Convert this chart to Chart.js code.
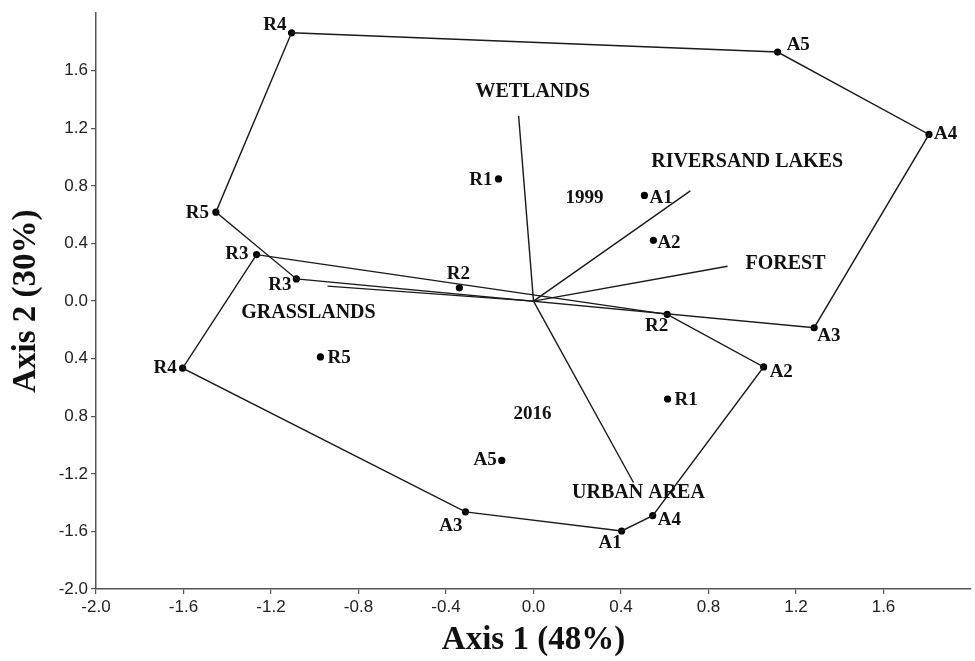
<!DOCTYPE html>
<html>
<head>
<meta charset="utf-8">
<script src="https://cdn.jsdelivr.net/npm/chart.js@4/dist/chart.umd.min.js"></script>
<style>
  html, body { margin: 0; padding: 0; background: #fff; }
  #wrap { width: 975px; height: 661px; }
</style>
</head>
<body>
<div id="wrap"><canvas id="myChart" width="975" height="661"></canvas></div>
<script>
'use strict';

// site scores, order R1..R5, A1..A5
let siteNames = ['R1', 'R2', 'R3', 'R4', 'R5', 'A1', 'A2', 'A3', 'A4', 'A5'];
let axis1_1999 = [-0.160, -0.339, -1.084, -1.106, -1.452, 0.507, 0.548, 1.283, 1.808, 1.116];
let axis2_1999 = [0.849, 0.092, 0.154, 1.864, 0.618, 0.734, 0.422, -0.185, 1.158, 1.730];
let axis1_2016 = [0.613, 0.611, -1.266, -1.604, -0.974, 0.403, 1.052, -0.311, 0.545, -0.145];
let axis2_2016 = [-0.680, -0.092, 0.323, -0.466, -0.388, -1.597, -0.457, -1.464, -1.490, -1.107];

// hull outlines (by site name)
let hull1999 = ['R4', 'A5', 'A4', 'A3', 'R3', 'R5', 'R4'];
let hull2016 = ['R3', 'R2', 'A2', 'A4', 'A1', 'A3', 'R4', 'R3'];

// land cover vectors
let coverNames = ['WETLANDS', 'RIVERSAND LAKES', 'FOREST', 'GRASSLANDS', 'URBAN AREA'];
let coverAxis1 = [-0.068, 0.717, 0.887, -0.942, 0.457];
let coverAxis2 = [1.287, 0.766, 0.242, 0.104, -1.260];

// year labels
let yearNames = ['1999', '2016'];
let yearAxis1 = [0.233, -0.005];
let yearAxis2 = [0.713, -0.782];

// ticks
let xTicks = [-2.0, -1.6, -1.2, -0.8, -0.4, 0.0, 0.4, 0.8, 1.2, 1.6];
let xTickLabels = ['-2.0', '-1.6', '-1.2', '-0.8', '-0.4', '0.0', '0.4', '0.8', '1.2', '1.6'];
let yTicks = [1.6, 1.2, 0.8, 0.4, 0.0, -0.4, -0.8, -1.2, -1.6, -2.0];
let yTickLabels = ['1.6', '1.2', '0.8', '0.4', '0.0', '0.4', '0.8', '-1.2', '-1.6', '-2.0'];

// label placement [align, dx, dy] in px, same order as siteNames
let place1999 = [['right', -6, 1], ['center', -1, -14], ['right', -5, 6], ['right', -5, -8], ['right', -7, 1],
                 ['left', 5, 3], ['left', 4, 3], ['left', 3, 8], ['left', 5, 0], ['left', 9, -7]];
let place2016 = [['left', 7, 1], ['right', 1, 12], ['right', -8, -1], ['right', -6, 0], ['left', 7, 1],
                 ['right', 0, 12], ['left', 6, 5], ['right', -3, 14], ['left', 5, 5], ['right', -5, 0]];
let placeCover = [['center', 14, -24], ['left', -39, -29], ['left', 18, -2], ['center', -19, 27], ['center', 5, 10]];

let ink = '#1a1a1a';
let serif = '"Liberation Serif", "Times New Roman", serif';

function pointsOf(xs, ys) {
    let out = [];
    for (let i = 0; i < xs.length; i++) {
        out.push({x: xs[i], y: ys[i]});
    }
    return out;
}

function hullOf(order, xs, ys) {
    return order.map(function (n) {
        let i = siteNames.indexOf(n);
        return {x: xs[i], y: ys[i]};
    });
}

let datasets = [];

datasets.push({data: hullOf(hull1999, axis1_1999, axis2_1999), showLine: true, borderColor: ink, borderWidth: 1.4, pointRadius: 0});
datasets.push({data: hullOf(hull2016, axis1_2016, axis2_2016), showLine: true, borderColor: ink, borderWidth: 1.4, pointRadius: 0});

for (let i = 0; i < coverNames.length; i++) {
    datasets.push({
        data: [{x: 0, y: 0}, {x: coverAxis1[i], y: coverAxis2[i]}],
        showLine: true, borderColor: ink, borderWidth: 1.4, pointRadius: 0
    });
}

datasets.push({data: pointsOf(axis1_1999, axis2_1999), pointRadius: 3.6, backgroundColor: '#000', borderColor: '#000', borderWidth: 0});
datasets.push({data: pointsOf(axis1_2016, axis2_2016), pointRadius: 3.6, backgroundColor: '#000', borderColor: '#000', borderWidth: 0});

// draws all text tags at data positions
let tagPlugin = {
    id: 'tags',
    afterDatasetsDraw: function (chart) {
        let ctx = chart.ctx;
        let sx = chart.scales.x;
        let sy = chart.scales.y;
        ctx.save();
        ctx.fillStyle = '#111';
        ctx.textBaseline = 'middle';

        function put(text, x, y, p) {
            ctx.textAlign = p[0];
            ctx.fillText(text, sx.getPixelForValue(x) + p[1], sy.getPixelForValue(y) + p[2]);
        }

        ctx.font = 'bold 19px ' + serif;
        for (let i = 0; i < siteNames.length; i++) {
            put(siteNames[i], axis1_1999[i], axis2_1999[i], place1999[i]);
            put(siteNames[i], axis1_2016[i], axis2_2016[i], place2016[i]);
        }
        for (let i = 0; i < yearNames.length; i++) {
            put(yearNames[i], yearAxis1[i], yearAxis2[i], ['center', 0, 0]);
        }
        ctx.font = 'bold 20px ' + serif;
        for (let i = 0; i < coverNames.length; i++) {
            put(coverNames[i], coverAxis1[i], coverAxis2[i], placeCover[i]);
        }
        ctx.restore();
    }
};

let tickFont = {family: '"Liberation Sans", Arial, sans-serif', size: 17};
let titleFont = {family: serif, size: 33, weight: 'bold'};

let ctx = document.getElementById('myChart').getContext('2d');
let chart = new Chart(ctx, {
    type: 'scatter',
    data: {datasets: datasets},
    options: {
        responsive: false,
        animation: false,
        events: [],
        layout: {padding: {top: 11, right: 3, left: 0, bottom: 0}},
        plugins: {legend: {display: false}, tooltip: {enabled: false}},
        scales: {
            x: {
                type: 'linear', min: -2, max: 2,
                afterBuildTicks: function (scale) {
                    scale.ticks = xTicks.map(function (v) { return {value: v}; });
                },
                afterFit: function (scale) { scale.height = 72; },
                ticks: {
                    autoSkip: false, maxRotation: 0, padding: 3, color: '#222', font: tickFont,
                    callback: function (v, i) { return xTickLabels[i]; }
                },
                grid: {drawOnChartArea: false, drawTicks: true, tickLength: 5, color: '#555', lineWidth: 1.2},
                border: {display: true, color: '#555', width: 1.5},
                title: {display: true, text: 'Axis 1 (48%)', color: '#111', font: titleFont, padding: {top: 0, bottom: 1}}
            },
            y: {
                type: 'linear', min: -2, max: 2,
                afterBuildTicks: function (scale) {
                    scale.ticks = yTicks.map(function (v) { return {value: v}; });
                },
                afterFit: function (scale) { scale.width = 96; },
                ticks: {
                    autoSkip: false, padding: 3, color: '#222', font: tickFont,
                    callback: function (v, i) { return yTickLabels[i]; }
                },
                grid: {drawOnChartArea: false, drawTicks: true, tickLength: 5, color: '#555', lineWidth: 1.2},
                border: {display: true, color: '#555', width: 1.5},
                title: {display: true, text: 'Axis 2 (30%)', color: '#111', font: titleFont, padding: {top: 7, bottom: 0}}
            }
        }
    },
    plugins: [tagPlugin]
});
</script>
</body>
</html>
